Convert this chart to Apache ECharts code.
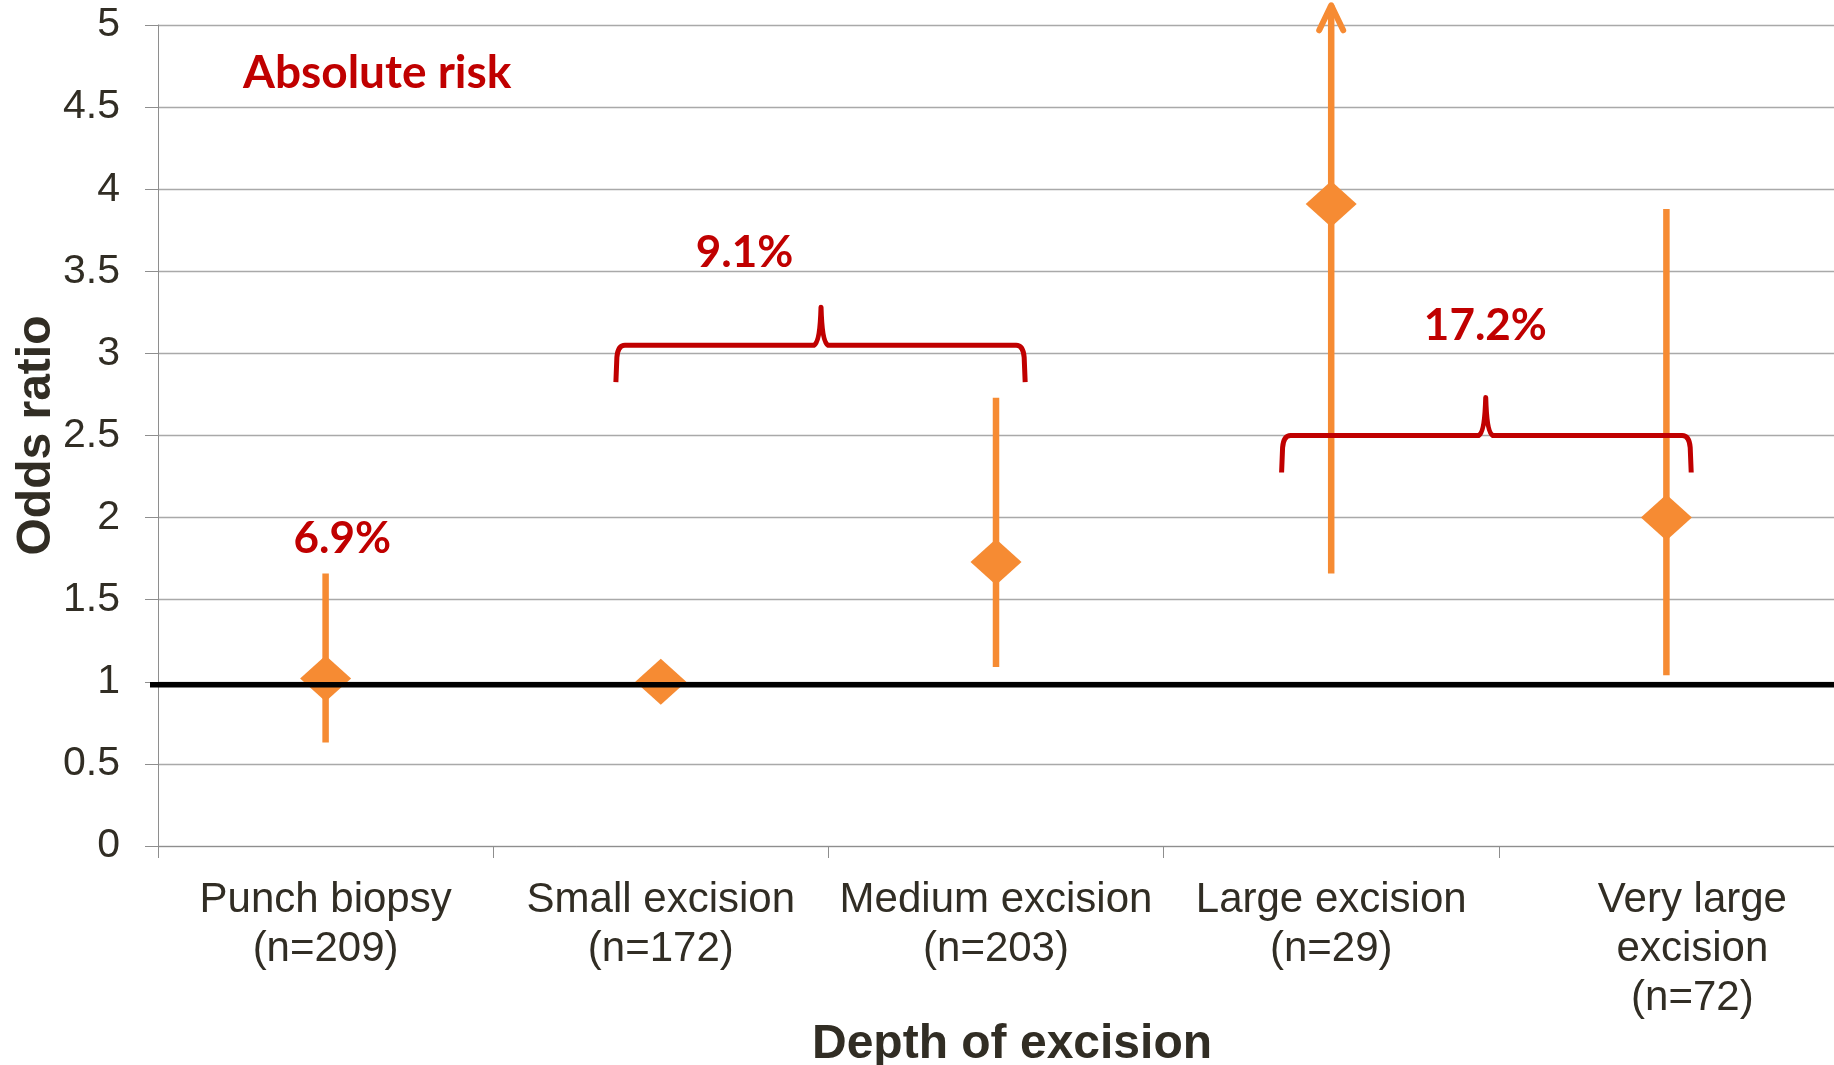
<!DOCTYPE html>
<html><head><meta charset="utf-8">
<script src="https://cdn.jsdelivr.net/npm/echarts@6/dist/echarts.min.js"></script>
<style>html,body{margin:0;padding:0;background:#fff}#c{width:1834px;height:1065px}</style>
</head><body><div id="c"></div>
<script>
// ---- data ----
const categories = ['Punch biopsy\n(n=209)', 'Small excision\n(n=172)', 'Medium excision\n(n=203)', 'Large excision\n(n=29)', 'Very large\nexcision\n(n=72)'];
const oddsRatio = [1.02, 1.0, 1.73, 3.91, 2.0];
const ciLow = [0.63, null, 1.09, 1.66, 1.04];
const ciHigh = [1.66, null, 2.73, 5.12, 3.88];
const ciArrowUp = [false, false, false, true, false];
const yMin = 0, yMax = 5, yStep = 0.5;
const referenceOR = 1;
const riskLabels = ['6.9%', '9.1%', '17.2%'];
const riskLabelX = [0.05, 1.25, 3.46];
const riskLabelY = [1.87, 3.61, 3.17];
const bracketFrom = [0.866, 2.852];
const bracketTo = [2.087, 4.074];
const bracketTip = [1.478, 3.461];
const bracketLevel = [3.05, 2.50];
const annotationTitle = 'Absolute risk';
const xTitle = 'Depth of excision';
const yTitle = 'Odds ratio';

// ---- styles ----
const ORANGE = '#F68B33';
const RED = '#C00000';
const TEXT = '#312d24';
const GRID = '#a9a9a9';
const AXIS = '#8e8e8e';

const chart = echarts.init(document.getElementById('c'), null, {renderer: 'canvas'});

const xData = categories.map((c, i) => i === categories.length - 1
  ? {value: c, textStyle: {padding: [0, 0, 0, 52]}} : c);

const errData = [];
categories.forEach((c, i) => { if (ciLow[i] != null) errData.push([i, ciLow[i], ciHigh[i], ciArrowUp[i] ? 1 : 0]); });

const bracketData = bracketFrom.map((f, i) => [f, bracketTo[i], bracketTip[i], bracketLevel[i]]);
const labelData = riskLabels.map((t, i) => [riskLabelX[i], riskLabelY[i], i]);

const option = {
  animation: false,
  backgroundColor: '#fff',
  grid: {left: 158, top: 25, right: 0, bottom: 219, containLabel: false, outerBoundsMode: 'none'},
  xAxis: [{
    type: 'category', data: xData, boundaryGap: true,
    axisLine: {show: true, onZero: false, lineStyle: {color: AXIS, width: 1}},
    axisTick: {show: true, length: 12, lineStyle: {color: AXIS, width: 1}},
    axisLabel: {color: TEXT, fontFamily: 'Liberation Sans, Arial', fontSize: 42, lineHeight: 49, margin: 30, interval: 0},
    splitLine: {show: false},
    name: xTitle, nameLocation: 'middle', nameGap: 175, nameMoveOverlap: false,
    nameTextStyle: {color: TEXT, fontFamily: 'Liberation Sans, Arial', fontWeight: 'bold', fontSize: 48, lineHeight: 48, padding: [0, 0, 0, 32]}
  }, {
    type: 'value', min: -0.5, max: 4.5, show: false,
    axisLine: {show: false, onZero: false}, splitLine: {show: false}, axisTick: {show: false}, axisLabel: {show: false}
  }],
  yAxis: {
    type: 'value', min: yMin, max: yMax, interval: yStep,
    axisLine: {show: true, onZero: false, lineStyle: {color: AXIS, width: 1}},
    axisTick: {show: true, length: 13, lineStyle: {color: AXIS, width: 1}},
    axisLabel: {color: TEXT, fontFamily: 'Liberation Sans, Arial', fontSize: 41, margin: 38},
    splitLine: {show: true, lineStyle: {color: GRID, width: 1.3}},
    name: yTitle, nameLocation: 'middle', nameGap: 97, nameMoveOverlap: false,
    nameTextStyle: {color: TEXT, fontFamily: 'Liberation Sans, Arial', fontWeight: 'bold', fontSize: 48}
  },
  series: [
    {
      type: 'custom', xAxisIndex: 0, z: 2, clip: false,
      data: errData,
      renderItem: function (params, api) {
        const i = api.value(0);
        const p1 = api.coord([i, api.value(1)]);
        const p2 = api.coord([i, api.value(2)]);
        const children = [{
          type: 'line', shape: {x1: p1[0], y1: p1[1], x2: p2[0], y2: p2[1]},
          style: {stroke: ORANGE, lineWidth: 6.5}
        }];
        if (api.value(3)) {
          children.push({
            type: 'polyline', shape: {points: [[p2[0] - 12, p2[1] + 25], [p2[0], p2[1]], [p2[0] + 12, p2[1] + 25]]},
            style: {stroke: ORANGE, lineWidth: 6, fill: 'none', lineCap: 'round', lineJoin: 'round'}
          });
        }
        return {type: 'group', children: children};
      }
    },
    {
      type: 'scatter', xAxisIndex: 0, z: 3,
      symbol: 'diamond', symbolSize: [51, 46],
      itemStyle: {color: ORANGE, opacity: 1},
      data: oddsRatio.map((v, i) => [i, v])
    },
    {
      type: 'custom', xAxisIndex: 1, z: 4, clip: false,
      data: bracketData,
      renderItem: function (params, api) {
        const l = api.coord([api.value(0), api.value(3)]);
        const r = api.coord([api.value(1), api.value(3)]);
        const c = api.coord([api.value(2), api.value(3)]);
        const y = l[1], top = y - 38, bot = y + 37;
        const xl = l[0], xr = r[0], xc = c[0];
        const d = 'M' + xl + ' ' + bot + ' L' + (xl + 1) + ' ' + (y + 12) +
          ' Q' + (xl + 2) + ' ' + y + ' ' + (xl + 9) + ' ' + y +
          ' L' + (xc - 7) + ' ' + y +
          ' Q' + (xc - 1) + ' ' + (y - 3) + ' ' + xc + ' ' + top +
          ' Q' + (xc + 1) + ' ' + (y - 3) + ' ' + (xc + 7) + ' ' + y +
          ' L' + (xr - 9) + ' ' + y +
          ' Q' + (xr - 2) + ' ' + y + ' ' + (xr - 1) + ' ' + (y + 12) +
          ' L' + xr + ' ' + bot;
        return {type: 'path', shape: {pathData: d}, style: {stroke: RED, lineWidth: 5, fill: 'none', lineJoin: 'round'}};
      }
    },
    {
      type: 'custom', xAxisIndex: 0, z: 5, clip: false,
      data: [[0, referenceOR]],
      renderItem: function (params, api) {
        const p = api.coord([0, api.value(1)]);
        const cs = params.coordSys;
        return {type: 'line', shape: {x1: cs.x - 8, y1: p[1] + 3, x2: cs.x + cs.width, y2: p[1] + 3},
          style: {stroke: '#000', lineWidth: 5.5}};
      }
    },
    {
      type: 'custom', xAxisIndex: 1, z: 6, clip: false,
      data: labelData,
      renderItem: function (params, api) {
        const p = api.coord([api.value(0), api.value(1)]);
        return {type: 'text', x: p[0], y: p[1], style: {
          text: riskLabels[api.value(2)], fill: RED, font: 'bold 44px Lato, "Open Sans", sans-serif',
          align: 'center', verticalAlign: 'middle'}};
      }
    }
  ],
  graphic: [{
    type: 'text', left: 243, top: 50, z: 10,
    style: {text: annotationTitle, fill: RED, font: 'bold 46px Lato, "Open Sans", sans-serif'}
  }]
};
chart.setOption(option);
</script>
</body></html>
